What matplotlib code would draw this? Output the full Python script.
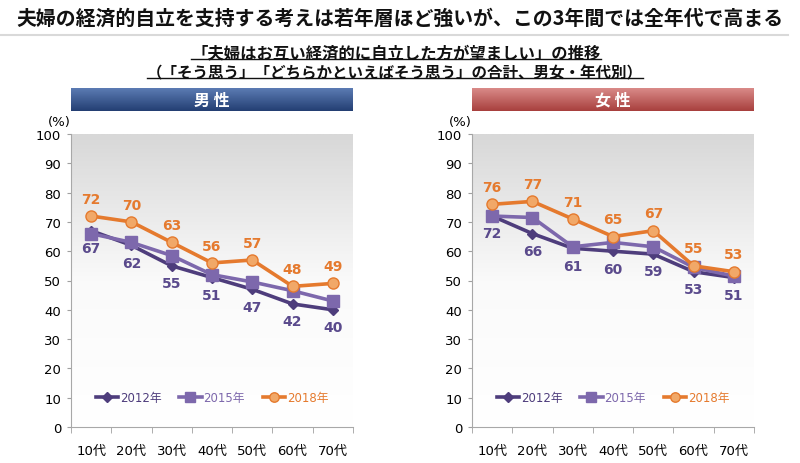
import numpy as np
import matplotlib
matplotlib.use('Agg')
import matplotlib.pyplot as plt
from matplotlib.lines import Line2D
from matplotlib.colors import LinearSegmentedColormap

plt.rcParams['font.family'] = ['DejaVu Sans', 'Noto Sans CJK JP']
JP = ['Noto Sans CJK JP', 'DejaVu Sans']

# Data
ages = ['10代', '20代', '30代', '40代', '50代', '60代', '70代']
years = ['2012年', '2015年', '2018年']

male_2012 = [67, 62, 55, 51, 47, 42, 40]
male_2015 = [66, 63, 58.5, 52, 49.5, 46.5, 43]
male_2018 = [72, 70, 63, 56, 57, 48, 49]

female_2012 = [72, 66, 61, 60, 59, 53, 51]
female_2015 = [72, 71.5, 61.5, 63, 61.5, 54.5, 51.5]
female_2018 = [76, 77, 71, 65, 67, 55, 53]

title = '夫婦の経済的自立を支持する考えは若年層ほど強いが、この3年間では全年代で高まる'
sub1 = '「夫婦はお互い経済的に自立した方が望ましい」の推移'
sub2 = '（「そう思う」「どちらかといえばそう思う」の合計、男女・年代別）'

c2012 = '#4E3D7C'
c2015 = '#7D68AC'
c2018 = '#E57A2E'
c2018_face = '#F1A868'

fig = plt.figure(figsize=(8, 4.64), dpi=100)

# titles
fig.text(0.5, 1 - 18 / 464, title, ha='center', va='center', fontsize=14.3,
         fontweight='bold', family=JP, color='#111111')
fig.add_artist(Line2D([0.0, 0.985], [1 - 36 / 464] * 2, color='#D9D9D9', lw=1.5))
t1 = fig.text(396 / 800, 1 - 53 / 464, sub1, ha='center', va='center', fontsize=11.8,
              fontweight='bold', family=JP, color='#111111')
t2 = fig.text(395 / 800, 1 - 73 / 464, sub2, ha='center', va='center', fontsize=11.2,
              fontweight='bold', family=JP, color='#111111')

grad_bg = LinearSegmentedColormap.from_list('bg', ['#FFFFFF', '#FAFAFA', '#D8D8D8'])


def header(x0, label, top_c, bot_c):
    hax = fig.add_axes([x0 / 800, 1 - 112 / 464, 282 / 800, 23 / 464])
    cm = LinearSegmentedColormap.from_list('h', [bot_c, top_c])
    g = np.linspace(0, 1, 50).reshape(-1, 1)
    hax.imshow(g, cmap=cm, aspect='auto', origin='lower', extent=(0, 1, 0, 1))
    hax.text(0.5, 0.5, label, ha='center', va='center', color='white', fontsize=11.5,
             fontweight='bold', family=JP, transform=hax.transAxes)
    hax.set_axis_off()


def panel(x0, s2012, s2015, s2018):
    ax = fig.add_axes([x0 / 800, 1 - 428 / 464, 282 / 800, 293 / 464])
    x = np.arange(len(ages))
    g = np.linspace(0, 1, 100).reshape(-1, 1)
    ax.imshow(g, cmap=grad_bg, aspect='auto', origin='lower',
              extent=(-0.5, 6.5, 0, 100), zorder=0)
    ax.plot(x, s2012, color=c2012, lw=2.6, marker='D', ms=5.5, label=years[0], zorder=3)
    ax.plot(x, s2015, color=c2015, lw=2.6, marker='s', ms=8, label=years[1], zorder=3)
    ax.plot(x, s2018, color=c2018, lw=2.6, marker='o', ms=8, mfc=c2018_face,
            mec=c2018, mew=1, label=years[2], zorder=4)
    for xi, v in zip(x, s2012):
        ax.annotate(f'{v:.0f}', (xi, v), xytext=(0, -12.5), textcoords='offset points',
                    ha='center', va='center', fontsize=10, fontweight='bold', color='#5A4A8C')
    for xi, v in zip(x, s2018):
        ax.annotate(f'{v:.0f}', (xi, v), xytext=(0, 12.5), textcoords='offset points',
                    ha='center', va='center', fontsize=10, fontweight='bold', color=c2018)
    ax.set_xlim(-0.5, 6.5)
    ax.set_ylim(0, 100)
    ax.set_yticks(range(0, 101, 10))
    ax.set_xticks(x)
    ax.set_xticklabels(ages, fontsize=9.5)
    ax.set_xticks(np.arange(-0.5, 7, 1), minor=True)
    ax.tick_params(axis='x', which='major', length=0, pad=12)
    ax.tick_params(axis='x', which='minor', length=4, color='#A0A0A0')
    ax.tick_params(axis='y', length=3, color='#A0A0A0', labelsize=9.5, pad=4)
    for s in ['top', 'right']:
        ax.spines[s].set_visible(False)
    for s in ['left', 'bottom']:
        ax.spines[s].set_color('#A8A8A8')
    ax.text(-0.043, 1.042, '(%)', transform=ax.transAxes, ha='center', va='center',
            fontsize=9.5)
    ax.legend(loc='center', bbox_to_anchor=(0.5, 0.1), ncol=3, frameon=False,
              handlelength=1.9, handletextpad=0.15, columnspacing=1.5,
              fontsize=8.5, labelcolor='linecolor', markerscale=0.85)
    return ax


header(71, '男 性', '#5B7BB3', '#243F73')
header(472, '女 性', '#D98A88', '#A8403E')
panel(71, male_2012, male_2015, male_2018)
panel(472, female_2012, female_2015, female_2018)

# underline subtitles
fig.canvas.draw()
r = fig.canvas.get_renderer()
for t in (t1, t2):
    bb = t.get_window_extent(r).transformed(fig.transFigure.inverted())
    fig.add_artist(Line2D([bb.x0, bb.x1], [bb.y0 + 0.004] * 2, color='#111111', lw=1))

fig.savefig('out.png', dpi=100)
